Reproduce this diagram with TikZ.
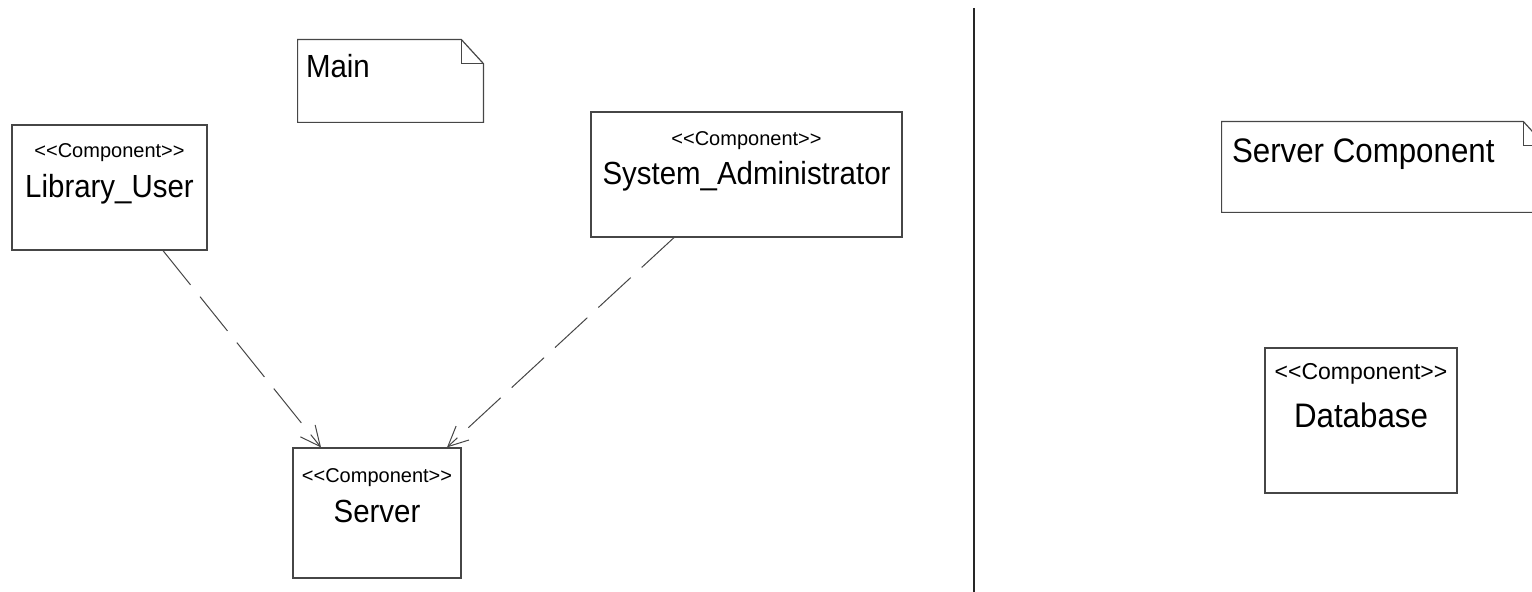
\documentclass[tikz,border=0pt]{standalone}
\usepackage{fontspec}
\setmainfont{Liberation Sans}
\newfontfamily\umlfont{Liberation Sans}
\newfontfamily\umlnamefont{Liberation Sans}[FakeStretch=0.92]
\usepackage{tikz}
\usetikzlibrary{arrows.meta,positioning,calc}

\begin{document}
\begin{tikzpicture}[
    x=0.5pt, y=-0.5pt,
    every node/.style={
        font=\umlfont
    },
    comp/.style={
        draw=linecolor,
        rectangle,
        inner sep=0pt,
        line width=0.6pt
    },
    stereo/.style={
        anchor=base,
        inner sep=0pt,
        font=\umlfont\fontsize{10}{12}\selectfont
    },
    compname/.style={
        anchor=base,
        inner sep=0pt,
        font=\umlnamefont\fontsize{16}{19}\selectfont
    },
    notebox/.style={
        rectangle,
        inner sep=0pt
    },
    notetext/.style={
        anchor=base west,
        inner sep=0pt,
        font=\umlnamefont\fontsize{16}{19}\selectfont
    },
    noteline/.style={
        draw=linecolor,
        line width=0.6pt,
        line join=miter
    },
    dep/.style={
        -{Straight Barb[length=10pt, width=9.5pt]},
        draw=linecolor,
        line width=0.5pt,
        dash pattern=on 22pt off 7.5pt
    }
]

%--- Color Definitions ---%
\definecolor{linecolor}{RGB}{70,70,70}

\useasboundingbox (0,0) rectangle (1532,592);

%-----------------------------------------------
% LEFT PART: Main
%-----------------------------------------------
\node[notebox, minimum width=92.5pt, minimum height=41pt]
    (mainnote) at (390.5,81) {};
\node[notetext] (maintext) at ($(mainnote.north west)+(8,38)$) {Main};

\node[comp, minimum width=97.5pt, minimum height=62.5pt]
    (user) at (109.5,187.5) {};
\node[stereo] (userst) at ($(user.north)+(0,33)$) {<{}<Component>{}>};
\node[compname] (username) at ($(user.north)+(0,73)$) {Library\_User};

\node[comp, minimum width=155.5pt, minimum height=62.5pt]
    (admin) at (746.5,174.5) {};
\node[stereo] (adminst) at ($(admin.north)+(0,34)$) {<{}<Component>{}>};
\node[compname] (adminname) at ($(admin.north)+(0,73)$) {System\_Administrator};

\node[comp, minimum width=84pt, minimum height=65pt]
    (server) at (377,513) {};
\node[stereo] (serverst) at ($(server.north)+(0,35)$) {<{}<Component>{}>};
\node[compname] (servername) at ($(server.north)+(0,75)$) {Server};

%-----------------------------------------------
% RIGHT PART: Server Component
%-----------------------------------------------
\node[notebox, minimum width=161.5pt, minimum height=45pt]
    (servnote) at (1383.5,167) {};
\node[notetext, font=\umlnamefont\fontsize{17}{20}\selectfont]
    (servtext) at ($(servnote.north west)+(10,41)$) {Server Component};

\node[comp, minimum width=96pt, minimum height=72.5pt]
    (db) at (1361,420.5) {};
\node[stereo, font=\umlfont\fontsize{11.5}{14}\selectfont]
    (dbst) at ($(db.north)+(0,32)$) {<{}<Component>{}>};
\node[compname, font=\umlnamefont\fontsize{17}{20}\selectfont]
    (dbname) at ($(db.north)+(0,80)$) {Database};

%-----------------------------------------------
% NOTE OUTLINES (folded corner)
%-----------------------------------------------
\foreach \n in {mainnote, servnote} {
    \draw[noteline]
        (\n.north west) -- ($(\n.north east)+(-22,0)$)
        -- ($(\n.north east)+(0,24)$) -- (\n.south east)
        -- (\n.south west) -- cycle;
    \draw[noteline]
        ($(\n.north east)+(-22,0)$) |- ($(\n.north east)+(0,24)$);
}

%-----------------------------------------------
% DIVIDER
%-----------------------------------------------
\coordinate (divtop) at (974,8);
\coordinate (divbot) at (974,600);
\draw[line width=1pt, black!85] (divtop) -- (divbot);

%-----------------------------------------------
% ARROWS
%-----------------------------------------------
\draw[dep] ($(user.south)+(53.5,0)$)  -- ($(server.north)+(-56,0)$);
\draw[dep] ($(admin.south)+(-72.5,0)$) -- ($(server.north)+(70,0)$);

\end{tikzpicture}
\end{document}
